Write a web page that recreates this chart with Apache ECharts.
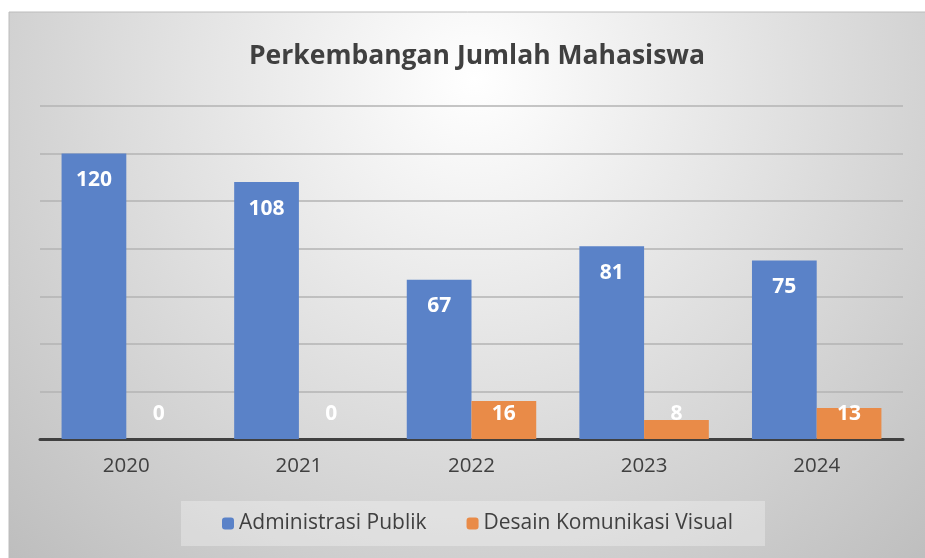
<!DOCTYPE html>
<html>
<head>
<meta charset="utf-8">
<script src="https://cdn.jsdelivr.net/npm/echarts@6/dist/echarts.min.js"></script>
<style>
  html, body { margin: 0; padding: 0; background: #fff; }
  #chart { width: 925px; height: 558px; }
</style>
</head>
<body>
<div id="chart"></div>
<script>
// data
const years = ['2020', '2021', '2022', '2023', '2024']
const adminPublik = [120, 108, 67, 81, 75]
const desainKomVis = [0, 0, 16, 8, 13]
const seriesNames = ['Administrasi Publik', 'Desain Komunikasi Visual']

const font = '"Open Sans", "Noto Sans", sans-serif'
const textColor = '#404040'

const chart = echarts.init(document.getElementById('chart'))

const option = {
  animation: false,
  graphic: [{
    type: 'rect',
    z: -10,
    silent: true,
    shape: { x: 9, y: 12, width: 930, height: 560 },
    style: {
      fill: {
        type: 'radial', x: 0.5, y: 0.12, r: 1.2,
        colorStops: [
          { offset: 0, color: '#ffffff' },
          { offset: 1, color: '#bdbdbd' }
        ]
      },
      stroke: '#bcbcbc',
      lineWidth: 1
    }
  }],
  title: {
    text: 'Perkembangan Jumlah Mahasiswa',
    left: 472,
    top: 38,
    textAlign: 'center',
    textStyle: { fontFamily: font, fontSize: 26.5, fontWeight: 'bold', color: textColor }
  },
  legend: {
    data: seriesNames,
    left: 181,
    top: 501,
    padding: [12, 32, 12, 41],
    itemWidth: 12,
    itemHeight: 12,
    itemGap: 40,
    backgroundColor: 'rgba(255,255,255,0.3)',
    textStyle: { fontFamily: font, fontSize: 21, color: textColor }
  },
  grid: { left: 40, right: 22, top: 106, bottom: 119 },
  xAxis: {
    type: 'category',
    data: years,
    axisLine: { lineStyle: { color: '#404040', width: 3 } },
    axisTick: { show: false },
    axisLabel: { fontFamily: font, fontSize: 20.5, color: textColor, margin: 17 }
  },
  yAxis: {
    type: 'value',
    min: 0,
    max: 140,
    interval: 20,
    axisLabel: { show: false },
    axisLine: { show: false },
    axisTick: { show: false },
    splitLine: { lineStyle: { color: '#b3b3b3', width: 1.5 } }
  },
  series: [
    {
      name: seriesNames[0],
      type: 'bar',
      data: adminPublik,
      barGap: '0%',
      barCategoryGap: '25%',
      itemStyle: { color: '#5a82c8' },
      label: {
        show: true, position: 'insideTop', distance: 16,
        fontFamily: font, fontSize: 21, fontWeight: 'bold', color: '#ffffff'
      }
    },
    {
      name: seriesNames[1],
      type: 'bar',
      data: desainKomVis,
      itemStyle: { color: '#e98b48' },
      label: {
        show: true, position: 'insideBottom', distance: 14,
        fontFamily: font, fontSize: 21, fontWeight: 'bold', color: '#ffffff'
      }
    }
  ]
}

chart.setOption(option)
</script>
</body>
</html>
